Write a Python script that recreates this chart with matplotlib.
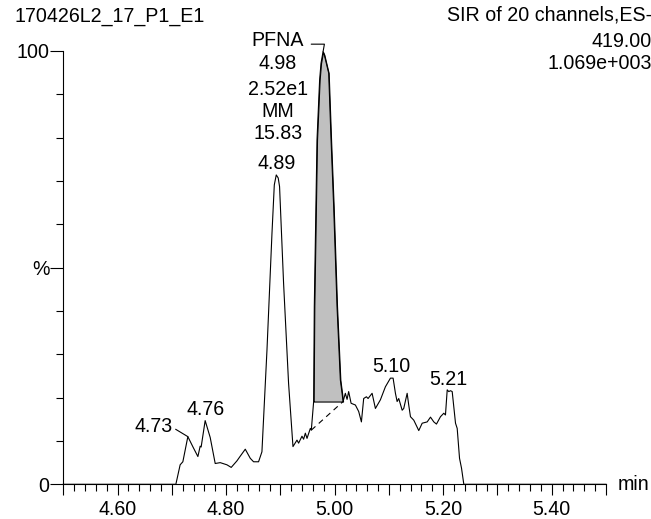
import matplotlib
matplotlib.use("Agg")
import matplotlib.pyplot as plt
from matplotlib.ticker import MultipleLocator, FixedLocator, FixedFormatter

plt.rcParams['font.family'] = ['Liberation Sans', 'DejaVu Sans']

# ---------------- data ----------------
rt_min = [4.500, 4.7074, 4.7153, 4.7203, 4.7295, 4.7390, 4.748, 4.7522, 4.754, 4.7614,
          4.7707, 4.7799, 4.7891, 4.8015, 4.8094, 4.8199, 4.8261, 4.8353, 4.8445,
          4.8506, 4.8598, 4.866, 4.8753, 4.8845, 4.8888, 4.8924, 4.896, 4.8985,
          4.9059, 4.9151, 4.9232, 4.9306, 4.9336, 4.9398, 4.9428, 4.946, 4.9491,
          4.9552, 4.957, 4.9613, 4.9625, 4.9675, 4.9723, 4.9749, 4.9786, 4.981,
          4.989, 4.9934, 4.9982, 5.0044, 5.0105, 5.0137, 5.0155, 5.0197, 5.0229,
          5.0258, 5.0303, 5.0382, 5.0443, 5.0493, 5.0535, 5.0585, 5.0616, 5.069,
          5.0751, 5.0843, 5.0935, 5.1028, 5.1077, 5.112, 5.1151, 5.1181, 5.1244,
          5.1273, 5.1336, 5.1365, 5.1397, 5.1458, 5.155, 5.1613, 5.1705, 5.1766,
          5.1827, 5.1876, 5.195, 5.2011, 5.2042, 5.2074, 5.2103, 5.2135, 5.2166,
          5.2227, 5.2258, 5.2301, 5.2338, 5.238, 5.500]
intensity_pct = [0.0, 0.0, 4.5, 5.2, 11.0, 8.6, 6.4, 8.8, 8.6, 14.7,
                 10.8, 4.8, 5.0, 4.5, 3.9, 5.4, 6.5, 8.1, 6.0,
                 5.2, 5.2, 7.5, 31.0, 57.9, 69.1, 71.4, 70.7, 68.7,
                 46.4, 23.3, 8.7, 10.2, 9.5, 11.1, 10.4, 11.8, 10.6,
                 12.9, 12.5, 19.1, 41.0, 79.5, 93.3, 97.2, 99.8, 99.1,
                 94.9, 79.5, 64.1, 41.0, 24.1, 21.0, 19.1, 21.0, 19.6,
                 21.4, 18.7, 18.3, 16.8, 14.4, 19.8, 20.2, 19.8, 21.0,
                 17.5, 19.5, 22.5, 24.5, 24.5, 21.0, 19.1, 19.8, 17.1,
                 17.5, 21.0, 18.3, 15.6, 14.8, 12.4, 14.1, 14.4, 15.5,
                 14.4, 13.9, 15.6, 16.4, 16.0, 21.8, 21.4, 21.6, 21.4,
                 14.1, 12.9, 6.0, 3.7, 0.0, 0.0]

# integrated peak (PFNA)
pfna_start = 4.9613
pfna_end = 5.0155
pfna_fill_floor = 19.1
baseline_rt = [4.957, 5.0155]
baseline_int = [12.5, 19.1]

# simple peak labels: (text, rt, intensity)
peak_labels = [("4.76", 4.7614, 14.7), ("4.89", 4.8924, 71.4),
               ("5.10", 5.1050, 24.5), ("5.21", 5.2100, 21.6)]
label_473 = ("4.73", 4.7295, 11.0)
pfna_lines = ["PFNA", "4.98", "2.52e1", "MM", "15.83"]
pfna_peak = (4.9786, 99.8)

title_left = "170426L2_17_P1_E1"
title_right = ["SIR of 20 channels,ES-", "419.00", "1.069e+003"]

x_tick_labels = ["4.60", "4.80", "5.00", "5.20", "5.40"]
y_tick_labels = ["0", "%", "100"]

# ---------------- figure ----------------
W, H = 651, 519
fig = plt.figure(figsize=(W / 100, H / 100), dpi=100)
L, R, T, B = 63.3, 606.0, 51.0, 484.3
ax = fig.add_axes([L / W, 1 - B / H, (R - L) / W, (B - T) / H])

FS = 14.1
lw = 0.8

ax.plot(rt_min, intensity_pct, color='black', lw=lw, clip_on=False, zorder=3)

seg_t = [t for t in rt_min if pfna_start <= t <= pfna_end]
seg_v = [v for t, v in zip(rt_min, intensity_pct) if pfna_start <= t <= pfna_end]
ax.fill_between(seg_t, seg_v, pfna_fill_floor, facecolor='#c0c0c0',
                edgecolor='black', lw=lw, zorder=2, clip_on=False)
ax.plot(baseline_rt, baseline_int, color='black', lw=lw, ls=(0, (5, 4)), zorder=2)

ax.set_xlim(4.5, 5.5)
ax.set_ylim(0, 100)
for s in ['top', 'right']:
    ax.spines[s].set_visible(False)
for s in ['left', 'bottom']:
    ax.spines[s].set_linewidth(lw)

ax.xaxis.set_major_locator(MultipleLocator(0.1))
ax.xaxis.set_minor_locator(MultipleLocator(0.02))
def xfmt(v, pos):
    k = round(v * 10)
    if k % 2 == 0 and 46 <= k <= 54:
        return x_tick_labels[(k - 46) // 2]
    return ""
ax.xaxis.set_major_formatter(plt.FuncFormatter(xfmt))
ax.yaxis.set_major_locator(FixedLocator([0, 50, 100]))
ax.yaxis.set_major_formatter(FixedFormatter(y_tick_labels))
ax.yaxis.set_minor_locator(MultipleLocator(10))

ax.tick_params(axis='x', which='major', length=8, width=lw, pad=3.5, labelsize=FS)
ax.tick_params(axis='x', which='minor', length=5, width=lw)
ax.tick_params(axis='y', which='major', length=9.5, width=lw, pad=0.5, labelsize=FS)
ax.tick_params(axis='y', which='minor', length=4.8, width=lw)

def px(dx, dy):
    return dict(xytext=(dx, dy), textcoords='offset pixels')

for txt, t, v in peak_labels:
    ax.annotate(txt, (t, v), ha='center', va='center', fontsize=FS,
                annotation_clip=False, **px(0, 11.5))

ax.annotate(label_473[0], (label_473[1], label_473[2]), ha='right', va='center',
            fontsize=FS, annotation_clip=False, **px(-15, 10),
            arrowprops=dict(arrowstyle='-', lw=lw, color='black',
                            shrinkA=0, shrinkB=0, relpos=(1.0, 0.45)))

pt, pv = pfna_peak
ax.annotate(pfna_lines[0], (pt, pv), ha='center', va='center', fontsize=FS,
            annotation_clip=False, **px(-45, 11.5),
            arrowprops=dict(arrowstyle='-', lw=lw, color='black',
                            shrinkA=3, shrinkB=0, relpos=(1.0, 0.3),
                            connectionstyle='angle,angleA=0,angleB=80,rad=0'))
offs = [23.3, 49.3, 71.0, 93.3]
for line, o in zip(pfna_lines[1:], offs):
    ax.annotate(line, (pt, pv), ha='center', va='center', fontsize=FS,
                annotation_clip=False, **px(-45, 11.5 - o))

fig.text(15 / W, 1 - 16.7 / H, title_left, ha='left', va='center', fontsize=FS)
for txt, y in zip(title_right, [15.0, 41.7, 63.3]):
    fig.text(652 / W, 1 - y / H, txt, ha='right', va='center', fontsize=FS)
fig.text(618 / W, 1 - 484.5 / H, "min", ha='left', va='center', fontsize=FS)

fig.savefig("out.png", dpi=100)
